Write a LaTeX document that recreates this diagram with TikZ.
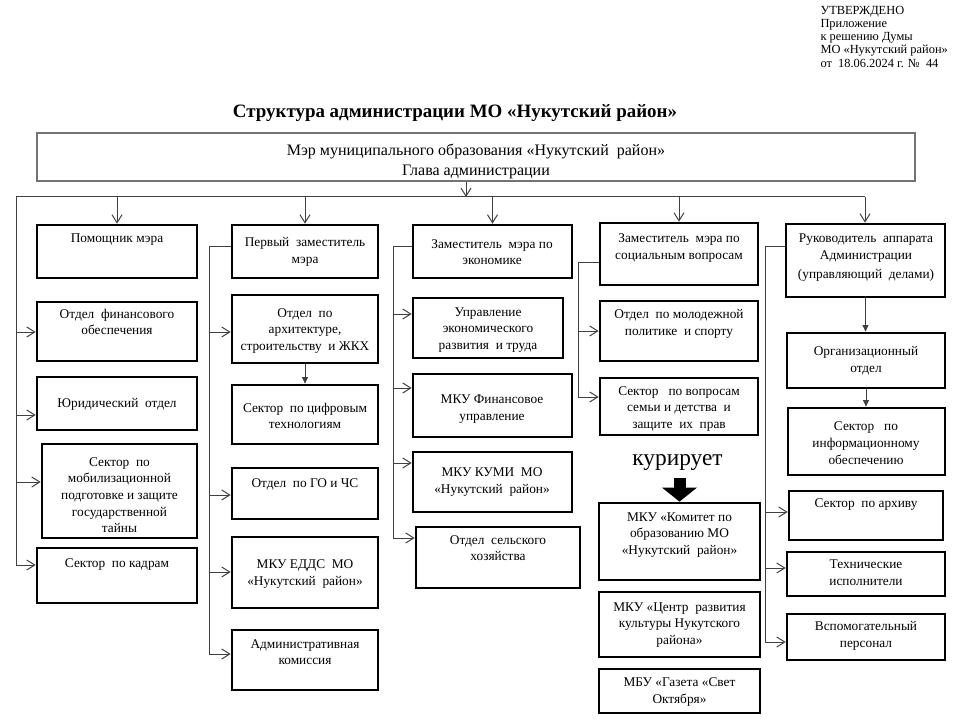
\documentclass[tikz,border=0pt]{standalone}
\usepackage{fontspec}
\setmainfont{Liberation Serif}
\usetikzlibrary{arrows.meta,fit}

\tikzset{every picture/.style={line width=0.75pt}}
\tikzset{
  box/.style={draw=black, line width=2pt, inner sep=0pt},
  mayorbox/.style={draw=black!55, line width=1.1pt, inner sep=0pt},
  txt/.style={align=center, inner sep=0pt, font=\fontsize{10}{12.5}\selectfont},
  link/.style={draw=black!75, line width=0.75pt},
  arr/.style={link, -{Straight Barb[length=6pt,width=7.5pt]}},
  farr/.style={link, -{Triangle[length=5pt,width=4.5pt]}},
}

\begin{document}
\begin{tikzpicture}[x=0.75pt,y=0.75pt,yscale=-1,xscale=1]
\path[use as bounding box] (0,0) rectangle (960,720);

% Text Node
\node[anchor=north west, align=left, inner sep=0pt, font=\fontsize{9.3}{9.9}\selectfont] (utv) at (820,5.5) {УТВЕРЖДЕНО\\Приложение\\к решению Думы\\МО «Нукутский район»\\от \ 18.06.2024 г. № \ 44};
% Text Node
\node[inner sep=0pt, font=\bfseries\fontsize{14.2}{16}\selectfont] (title) at (455,113) {Структура администрации МО «Нукутский район»};

%Shape: Rectangle
\node[mayorbox, fit={(37,133) (915,181)}] (mayor) {};
% Text Node
\node[align=center, inner sep=0pt, font=\fontsize{12}{15}\selectfont] (mayorT) at (476,161.5) {Мэр муниципального образования «Нукутский \ район»\\Глава администрации};

%Shape: Rectangle
\node[box, fit={(37,225) (197,278)}] (pom) {};
\node[box, fit={(37,302) (197,361)}] (fin) {};
\node[box, fit={(37,377) (197,430)}] (jur) {};
\node[box, fit={(42,444) (197,538)}] (mob) {};
\node[box, fit={(37,548) (197,603)}] (kadr) {};
% Text Node
\node[txt] (pomT) at (117,240) {Помощник мэра};
\node[txt] (finT) at (117,322) {Отдел \ финансового\\обеспечения};
\node[txt] (jurT) at (117,404) {Юридический \ отдел};
\node[txt] (mobT) at (119.5,495) {Сектор \ по\\мобилизационной\\подготовке и защите\\государственной\\тайны};
\node[txt] (kadrT) at (117,565) {Сектор \ по кадрам};

%Shape: Rectangle
\node[box, fit={(232,225) (378,278)}] (first) {};
\node[box, fit={(232,295) (378,363)}] (arch) {};
\node[box, fit={(232,385) (378,444)}] (dig) {};
\node[box, fit={(232,468) (378,519)}] (go) {};
\node[box, fit={(232,537) (378,608)}] (edds) {};
\node[box, fit={(232,630) (378,690)}] (adm) {};
% Text Node
\node[txt] (firstT) at (305,252) {Первый \ заместитель\\мэра};
\node[txt] (archT) at (305,331) {Отдел \ по\\архитектуре,\\строительству \ и ЖКХ};
\node[txt] (digT) at (305,416) {Сектор \ по цифровым\\технологиям};
\node[txt] (goT) at (305,484) {Отдел \ по ГО и ЧС};
\node[txt] (eddsT) at (305,574) {МКУ ЕДДС \ МО\\«Нукутский \ район»};
\node[txt] (admT) at (305,652) {Административная\\комиссия};

%Shape: Rectangle
\node[box, fit={(413,225) (572,278)}] (econ) {};
\node[box, fit={(413,298) (563,358)}] (upr) {};
\node[box, fit={(413,374) (572,437)}] (mkufin) {};
\node[box, fit={(413,452) (572,512)}] (kumi) {};
\node[box, fit={(416,527) (580,588)}] (selh) {};
% Text Node
\node[txt] (econT) at (492,252) {Заместитель \ мэра по\\экономике};
\node[txt] (uprT) at (488,330) {Управление\\экономического\\развития \ и труда};
\node[txt] (mkufinT) at (492,409) {МКУ Финансовое\\управление};
\node[txt] (kumiT) at (492,482) {МКУ КУМИ \ МО\\«Нукутский \ район»};
\node[txt] (selhT) at (498,548) {Отдел \ сельского\\хозяйства};

%Shape: Rectangle
\node[box, fit={(600,223) (758,285)}] (soc) {};
\node[box, fit={(600,301) (758,361)}] (mol) {};
\node[box, fit={(600,378) (758,435)}] (sem) {};
\node[box, fit={(599,503) (760,580)}] (kom) {};
\node[box, fit={(599,592) (760,657)}] (cult) {};
\node[box, fit={(599,669) (760,713)}] (gaz) {};
% Text Node
\node[txt] (socT) at (679,248) {Заместитель \ мэра по\\социальным вопросам};
\node[txt] (molT) at (679,324) {Отдел \ по молодежной\\политике \ и спорту};
\node[txt] (semT) at (679,409) {Сектор \ \ по вопросам\\семьи и детства \ и\\защите \ их \ прав};
\node[inner sep=0pt, font=\fontsize{17.5}{20}\selectfont] (kurT) at (677.5,463) {курирует};
\node[txt] (komT) at (679.5,535) {МКУ «Комитет по\\образованию МО\\«Нукутский \ район»};
\node[txt] (cultT) at (679.5,625) {МКУ «Центр \ развития\\культуры Нукутского\\района»};
\node[txt] (gazT) at (679.5,692) {МБУ «Газета «Свет\\Октября»};

%Shape: Rectangle
\node[box, fit={(786,224) (945,297)}] (ruk) {};
\node[box, fit={(787,333) (945,388)}] (org) {};
\node[box, fit={(788,408) (945,475)}] (inf) {};
\node[box, fit={(789,491) (943,540)}] (arh) {};
\node[box, fit={(787,552) (945,596)}] (teh) {};
\node[box, fit={(787,614) (945,660)}] (vsp) {};
% Text Node
\node[txt] (rukT) at (866,258) {Руководитель \ аппарата\\Администрации\\[2pt](управляющий \ делами)};
\node[txt] (orgT) at (866,361) {Организационный\\отдел};
\node[txt] (infT) at (866,443) {Сектор \ \ по\\информационному\\обеспечению};
\node[txt] (arhT) at (866,505) {Сектор \ по архиву};
\node[txt] (tehT) at (866,573) {Технические\\исполнители};
\node[txt] (vspT) at (866,636) {Вспомогательный\\персонал};

%Straight Lines
\coordinate (busL) at (16,197);
\coordinate (busM) at (466,197);
\coordinate (busR) at (865,197);
\draw[link] (busL) -- (busR);
\draw[arr] (mayor.south -| busM) -- (busM);
\draw[arr] (busL -| pom.north) -- (pom.north);
\draw[arr] (busL -| first.north) -- (first.north);
\draw[arr] (busL -| econ.north) -- (econ.north);
\draw[arr] (busL -| soc.north) -- (soc.north);
\draw[arr] (busR) -- (busR |- ruk.north);

%Straight Lines
\draw[link] (busL) -- (busL |- 0,566);
\draw[arr] (busL |- 0,332) -- (fin.west |- 0,332);
\draw[arr] (busL |- 0,415) -- (jur.west |- 0,415);
\draw[arr] (busL |- 0,482) -- (mob.west |- 0,482);
\draw[arr] (busL |- 0,565) -- (kadr.west |- 0,565);

%Straight Lines
\coordinate (v2) at (209,247);
\draw[link] (first.west |- v2) -- (v2) -- (v2 |- 0,655);
\draw[arr] (v2 |- 0,332) -- (arch.west |- 0,332);
\draw[arr] (v2 |- 0,495) -- (go.west |- 0,495);
\draw[arr] (v2 |- 0,572) -- (edds.west |- 0,572);
\draw[arr] (v2 |- 0,654) -- (adm.west |- 0,654);
\draw[farr] (arch.south) -- (dig.north);

%Straight Lines
\coordinate (v3) at (393,247);
\draw[link] (econ.west |- v3) -- (v3) -- (v3 |- 0,539);
\draw[arr] (v3 |- 0,314) -- (upr.west |- 0,314);
\draw[arr] (v3 |- 0,388) -- (mkufin.west |- 0,388);
\draw[arr] (v3 |- 0,463) -- (kumi.west |- 0,463);
\draw[arr] (v3 |- 0,538) -- (selh.west |- 0,538);

%Straight Lines
\coordinate (v4) at (578,263);
\draw[link] (soc.west |- v4) -- (v4) -- (v4 |- 0,398);
\draw[arr] (v4 |- 0,331) -- (mol.west |- 0,331);
\draw[arr] (v4 |- 0,397) -- (sem.west |- 0,397);
\draw[line width=9pt, -{Triangle[length=10.5pt,width=25.5pt]}] (kom.north |- 0,478) -- (kom.north);

%Straight Lines
\coordinate (v5) at (765,247);
\draw[link] (ruk.west |- v5) -- (v5) -- (v5 |- 0,643);
\draw[arr] (v5 |- 0,512) -- (arh.west |- 0,512);
\draw[arr] (v5 |- 0,568) -- (teh.west |- 0,568);
\draw[arr] (v5 |- 0,642) -- (vsp.west |- 0,642);
\draw[farr] (ruk.south) -- (ruk.south |- org.north);
\draw[farr] (org.south) -- (org.south |- inf.north);

\end{tikzpicture}
\end{document}
